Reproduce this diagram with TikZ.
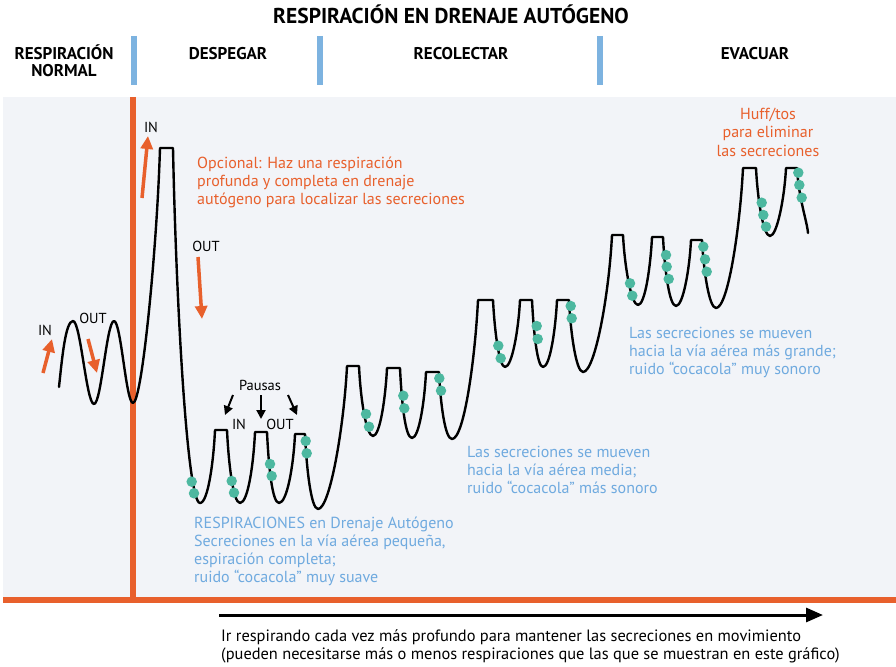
\documentclass[tikz,border=0pt]{standalone}
\usepackage{fontspec}
\setmainfont{PT Sans}
\usetikzlibrary{arrows.meta}
\definecolor{orng}{HTML}{E8602C}
\definecolor{sepblue}{HTML}{7DB3E0}
\definecolor{txtblue}{HTML}{6FAADF}
\definecolor{dotteal}{HTML}{4DB8A0}
\definecolor{bggray}{HTML}{F2F4F8}
\begin{document}
\begin{tikzpicture}[x=1pt,y=-1pt,
  curve/.style={line width=2.4pt, line join=round, line cap=round},
  dot/.style={circle, fill=dotteal, inner sep=0pt, minimum size=10.5pt},
  oarrow/.style={orng, line width=3.5pt, -{Triangle[length=13pt,width=12pt]}},
  parrow/.style={black, line width=2pt, -{Triangle[length=9pt,width=9pt]}},
  sep/.style={sepblue, line width=6pt},
  head/.style={font=\bfseries\fontsize{17}{17}\selectfont, inner sep=0pt, anchor=base, align=center},
  lab/.style={font=\fontsize{14.5}{15}\selectfont, inner sep=0pt, anchor=base},
  otext/.style={text=orng, font=\fontsize{16}{18}\selectfont, inner sep=0pt, align=left, anchor=base west},
  btext/.style={text=txtblue, font=\fontsize{16}{18}\selectfont, inner sep=0pt, align=left, anchor=base west}
]
\useasboundingbox (0,0) rectangle (896,666);
% background and frame lines
\fill[bggray] (3,97) rectangle (896,600);
\coordinate (vtop) at (133,97);
\coordinate (vbot) at (133,600);
\coordinate (hl) at (3,600);
\coordinate (hr) at (896,600);
\draw[orng, line width=5.5pt] (vtop) -- (vbot);
\draw[orng, line width=6pt] (hl) -- (hr);

% title and phase headings
\node[font=\bfseries\fontsize{21.5}{22}\selectfont, inner sep=0pt, anchor=base] (title) at (451,24) {RESPIRACIÓN EN DRENAJE AUTÓGENO};
\node[head] (hnormal) at (64,77) {RESPIRACIÓN\\NORMAL};
\node[head] (hdesp) at (228,60) {DESPEGAR};
\node[head] (hrecol) at (461,60) {RECOLECTAR};
\node[head] (hevac) at (755,60) {EVACUAR};
\coordinate (s1a) at (133.5,36); \coordinate (s1b) at (133.5,85);
\coordinate (s2a) at (320,36); \coordinate (s2b) at (320,85);
\coordinate (s3a) at (600,36); \coordinate (s3b) at (600,85);
\draw[sep] (s1a) -- (s1b);
\draw[sep] (s2a) -- (s2b);
\draw[sep] (s3a) -- (s3b);

% breathing curve
\draw[curve] (59,387) .. controls +(3,-28) and +(-7.6,0) .. (73,321)
  .. controls +(7.6,0) and +(-7.6,0) .. (94,404)
  .. controls +(7.3,0) and +(-7.3,0) .. (114,321)
  .. controls +(7,0) and +(-7,0) .. (133,403)
  .. controls +(9,0) and +(-3,100) .. (160,148) -- (173,148)
  .. controls +(3,150) and +(-13,0) .. (200,503)
  .. controls +(8,0) and +(-1.5,32) .. (215,430) -- (227,430)
  .. controls +(1.5,32) and +(-7,0) .. (240,503)
  .. controls +(8,0) and +(-1.5,32) .. (255,432) -- (267,432)
  .. controls +(1.5,32) and +(-7,0) .. (279,503)
  .. controls +(8,0) and +(-1.5,32) .. (295,434) -- (305,434)
  .. controls +(1.5,34) and +(-7,0) .. (318,509)
  .. controls +(12,0) and +(-3,60) .. (347,366) -- (359,366)
  .. controls +(1.5,32) and +(-7,0) .. (373,436)
  .. controls +(7,0) and +(-1.5,30) .. (387,368) -- (400,368)
  .. controls +(1.5,32) and +(-7,0) .. (412,438)
  .. controls +(7,0) and +(-1.5,30) .. (426,372) -- (439,372)
  .. controls +(1.5,32) and +(-7,0) .. (452,439)
  .. controls +(12,0) and +(-3,60) .. (478,300) -- (493,300)
  .. controls +(1.5,30) and +(-6,0) .. (505,367)
  .. controls +(7,0) and +(-1.5,30) .. (520,300) -- (532,300)
  .. controls +(1.5,30) and +(-6,0) .. (543,367)
  .. controls +(7,0) and +(-1.5,30) .. (557,300) -- (569,300)
  .. controls +(1.5,32) and +(-7,0) .. (583,372)
  .. controls +(12,0) and +(-3,60) .. (612,235) -- (623,235)
  .. controls +(1.5,30) and +(-7,0) .. (638,305)
  .. controls +(7,0) and +(-1.5,30) .. (652,237) -- (663,237)
  .. controls +(1.5,30) and +(-7,0) .. (676,306)
  .. controls +(7,0) and +(-1.5,30) .. (691,240) -- (702,240)
  .. controls +(1.5,30) and +(-7,0) .. (716,308)
  .. controls +(12,0) and +(-3,60) .. (743,168) -- (756,168)
  .. controls +(1.5,30) and +(-7,0) .. (770,236)
  .. controls +(7,0) and +(-1.5,30) .. (786,168) -- (797,168)
  .. controls +(1.5,30) and +(-1,-12) .. (808,233);

% secretion dots
\foreach \x/\y [count=\i] in {191.7/481.7, 194/493.3, 231.7/481, 234/492.7, 270/464, 271.7/476,
  305.7/441, 306.7/453.3, 366/414, 369/426.7, 403.3/395.7, 404.3/408.3, 439.3/378.3, 441/390.7,
  498.3/345.7, 500.7/358.3, 536.7/326, 537.7/339, 570.7/306, 571.7/318.3,
  630/283.3, 632.3/295.7, 666/255, 666.7/266.7, 668.7/279, 703.3/246.7, 705/259.3, 706.7/271.7,
  761.7/202.7, 763.3/215, 766/226.7, 798.3/172.7, 799.3/185, 801.7/197.7}
  \node[dot] (dot\i) at (\x,\y) {};

% orange arrows and IN/OUT labels
\coordinate (a1s) at (43,373); \coordinate (a1e) at (52,339);
\coordinate (a2s) at (88,339); \coordinate (a2e) at (97,373);
\coordinate (a3s) at (142,198); \coordinate (a3e) at (148,136);
\coordinate (a4s) at (198,257); \coordinate (a4e) at (202,319);
\draw[oarrow] (a1s) -- (a1e);
\draw[oarrow] (a2s) -- (a2e);
\draw[oarrow] (a3s) -- (a3e);
\draw[oarrow] (a4s) -- (a4e);
\node[lab] (in1) at (45,335) {IN};
\node[lab] (out1) at (93,323) {OUT};
\node[lab] (in2) at (151,132) {IN};
\node[lab] (out2) at (206,251) {OUT};

% pauses
\node[lab] (pausas) at (260,390) {Pausas};
\node[lab] (in3) at (239,429) {IN};
\node[lab] (out3) at (280,429) {OUT};
\coordinate (p1s) at (233,395); \coordinate (p1e) at (225,415);
\coordinate (p2s) at (261,395); \coordinate (p2e) at (261,419);
\coordinate (p3s) at (288,395); \coordinate (p3e) at (297,415);
\draw[parrow] (p1s) -- (p1e);
\draw[parrow] (p2s) -- (p2e);
\draw[parrow] (p3s) -- (p3e);

% annotations (base anchor = baseline of last line)
\node[otext] (opc) at (197,204) {Opcional: Haz una respiración\\profunda y completa en drenaje\\autógeno para localizar las secreciones};
\node[otext, align=center, anchor=base] (huff) at (768,156) {Huff/tos\\para eliminar\\las secreciones};
\node[btext] (b1) at (194,582) {RESPIRACIONES en Drenaje Autógeno\\Secreciones en la vía aérea pequeña,\\espiración completa;\\ruido “cocacola” muy suave};
\node[btext] (b2) at (467,493) {Las secreciones se mueven\\hacia la vía aérea media;\\ruido “cocacola” más sonoro};
\node[btext] (b3) at (629,374) {Las secreciones se mueven\\hacia la vía aérea más grande;\\ruido “cocacola” muy sonoro};

% bottom arrow and text
\coordinate (ba) at (219,615); \coordinate (bb) at (823,615);
\draw[line width=3pt, -{Triangle[length=17pt,width=14pt]}] (ba) -- (bb);
\node[font=\fontsize{16.4}{18}\selectfont, inner sep=0pt, align=left, anchor=base west] (foot) at (221,659) {Ir respirando cada vez más profundo para mantener las secreciones en movimiento\\(pueden necesitarse más o menos respiraciones que las que se muestran en este gráfico)};
\end{tikzpicture}
\end{document}
